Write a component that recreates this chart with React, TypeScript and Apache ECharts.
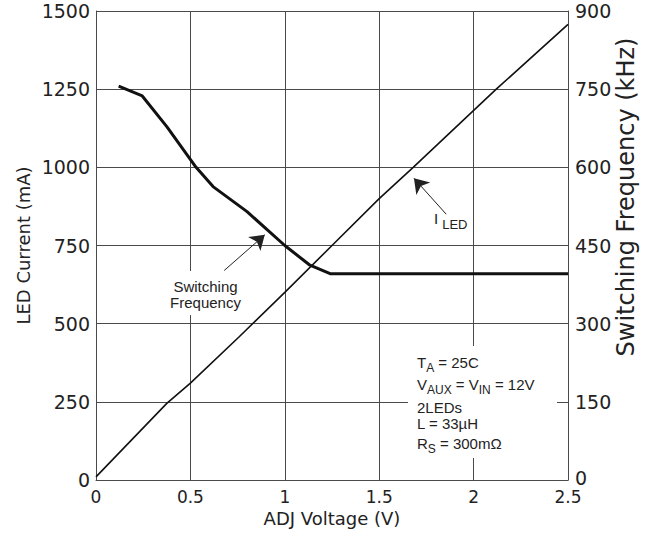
import React, { useEffect, useRef } from 'react';
import * as echarts from 'echarts';

// ADJ voltage (V) vs LED current (mA)
const ledVoltage = [0, 0.375, 0.5, 0.76, 1.0, 1.25, 1.5, 1.68, 2.12, 2.5];
const ledCurrent = [10, 245, 310, 459, 600, 750, 900, 1000, 1250, 1457];

// ADJ voltage (V) vs switching frequency (kHz)
const swVoltage = [0.12, 0.245, 0.375, 0.53, 0.62, 0.8, 1.0, 1.13, 1.24, 2.5];
const swFreq = [756, 737, 678, 600, 563, 515, 450, 413, 396, 396];

// Annotation arrows [fromV, frommA, toV, tomA]
const swArrow = [0.679, 670, 0.894, 784];
const ledArrow = [1.855, 850, 1.684, 965];

// Test-condition lines: [text, isSubscript]
const conditionLines: [string, boolean][][] = [
  [['T', false], ['A', true], [' = 25C', false]],
  [['V', false], ['AUX', true], [' = V', false], ['IN', true], [' = 12V', false]],
  [['2LEDs', false]],
  [['L = 33µH', false]],
  [['R', false], ['S', true], [' = 300mΩ', false]],
];
const conditionCapY = [362, 384, 407, 423.5, 443];
const ledLabel: [string, boolean][] = [['I', false], ['LED', true]];

const FONT = 'DejaVu Sans';
const AFONT = 'Liberation Sans';
const TXT = '#222';
const GRIDC = '#4a4a4a';

export default function App() {
  const ref = useRef<HTMLDivElement>(null);
  useEffect(() => {
    if (!ref.current) return;
    const chart = echarts.init(ref.current, undefined, { renderer: 'svg' });
    const ctx = document.createElement('canvas').getContext('2d')!;
    const measure = (t: string, size: number) => {
      ctx.font = `${size}px "${AFONT}"`;
      return ctx.measureText(t).width;
    };
    const buildLine = (parts: [string, boolean][], x0: number, capY: number, mainSize = 15, subSize = 12, subGap = 0) => {
      let x = x0;
      const out: any[] = [];
      parts.forEach(([t, sub]) => {
        const size = sub ? subSize : mainSize;
        if (sub) x += subGap;
        out.push({
          type: 'text', z: 5, x, y: sub ? capY + 6 : capY,
          style: { text: t, fontSize: size, fontFamily: AFONT, fill: TXT, align: 'left', verticalAlign: 'middle' },
        });
        x += measure(t, size);
      });
      return out;
    };
    const graphic: any[] = [
      { type: 'rect', z: 1, shape: { x: 160, y: 271, width: 88, height: 44 }, style: { fill: '#fff' } },
      { type: 'rect', z: 1, shape: { x: 408, y: 346, width: 149, height: 112 }, style: { fill: '#fff' } },
      {
        type: 'text', z: 5, x: 205.5, y: 294,
        style: { text: 'Switching\nFrequency', fontSize: 15, fontFamily: AFONT, fill: TXT, align: 'center', verticalAlign: 'middle', lineHeight: 16 },
      },
      ...buildLine(ledLabel, 434, 218.5, 15, 13, 4),
      ...conditionLines.flatMap((parts, i) => buildLine(parts, 417, conditionCapY[i])),
      {
        type: 'text', z: 5, x: 626, y: 197, rotation: Math.PI / 2,
        style: { text: 'Switching Frequency (kHz)', fontSize: 24, fontFamily: FONT, fill: TXT, align: 'center', verticalAlign: 'middle' },
      },
    ];
    const plain = (v: number) => String(v);
    chart.setOption({
      animation: false,
      backgroundColor: '#fff',
      grid: { left: 96, right: 84, top: 11, bottom: 53, outerBoundsMode: 'none' },
      xAxis: {
        type: 'value', min: 0, max: 2.5, interval: 0.5,
        name: 'ADJ Voltage (V)', nameLocation: 'middle', nameGap: 29, nameMoveOverlap: false,
        nameTextStyle: { fontSize: 18, fontFamily: FONT, color: TXT, lineHeight: 18 },
        axisLine: { show: true, lineStyle: { color: GRIDC, width: 1 } },
        axisTick: { show: false },
        axisLabel: { fontSize: 17, fontFamily: FONT, color: TXT, margin: 9, lineHeight: 16, formatter: plain },
        splitLine: { show: true, lineStyle: { color: GRIDC, width: 1 } },
      },
      yAxis: [
        {
          type: 'value', min: 0, max: 1500, interval: 250, position: 'left',
          name: 'LED Current (mA)', nameLocation: 'middle', nameGap: 64, nameRotate: 90, nameMoveOverlap: false,
          nameTextStyle: { fontSize: 18, fontFamily: FONT, color: TXT },
          axisLine: { show: true, lineStyle: { color: GRIDC, width: 1 } },
          axisTick: { show: false },
          axisLabel: { fontSize: 19, fontFamily: FONT, color: TXT, margin: 6, lineHeight: 16, formatter: plain },
          splitLine: { show: true, lineStyle: { color: GRIDC, width: 1 } },
        },
        {
          type: 'value', min: 0, max: 900, interval: 150, position: 'right',
          axisLine: { show: true, lineStyle: { color: GRIDC, width: 1 } },
          axisTick: { show: false },
          axisLabel: {
            fontSize: 19, fontFamily: FONT, color: TXT, margin: 7, lineHeight: 16,
            formatter: (v: number) => (v === 0 ? '{z|0}' : String(v)),
            rich: { z: { fontSize: 19, fontFamily: FONT, color: TXT, lineHeight: 16, padding: [0, 0, 5, 0] } },
          },
          splitLine: { show: false },
        },
      ],
      series: [
        {
          name: 'ILED', type: 'line', yAxisIndex: 0, z: 3,
          data: ledVoltage.map((v, i) => [v, ledCurrent[i]]),
          symbol: 'none', lineStyle: { color: '#111', width: 1.6 },
          markLine: {
            silent: true, symbol: ['none', 'arrow'], symbolSize: 14,
            label: { show: false },
            lineStyle: { color: '#222', width: 1, type: 'solid' },
            data: [
              [{ coord: [swArrow[0], swArrow[1]] }, { coord: [swArrow[2], swArrow[3]] }],
              [{ coord: [ledArrow[0], ledArrow[1]] }, { coord: [ledArrow[2], ledArrow[3]] }],
            ],
          },
        },
        {
          name: 'Switching Frequency', type: 'line', yAxisIndex: 1, z: 3,
          data: swVoltage.map((v, i) => [v, swFreq[i]]),
          symbol: 'none', lineStyle: { color: '#111', width: 3 },
        },
      ],
      graphic,
    });
    return () => chart.dispose();
  }, []);
  return <div ref={ref} style={{ position: 'absolute', left: 0, top: 0, width: 652, height: 533 }} />;
}
